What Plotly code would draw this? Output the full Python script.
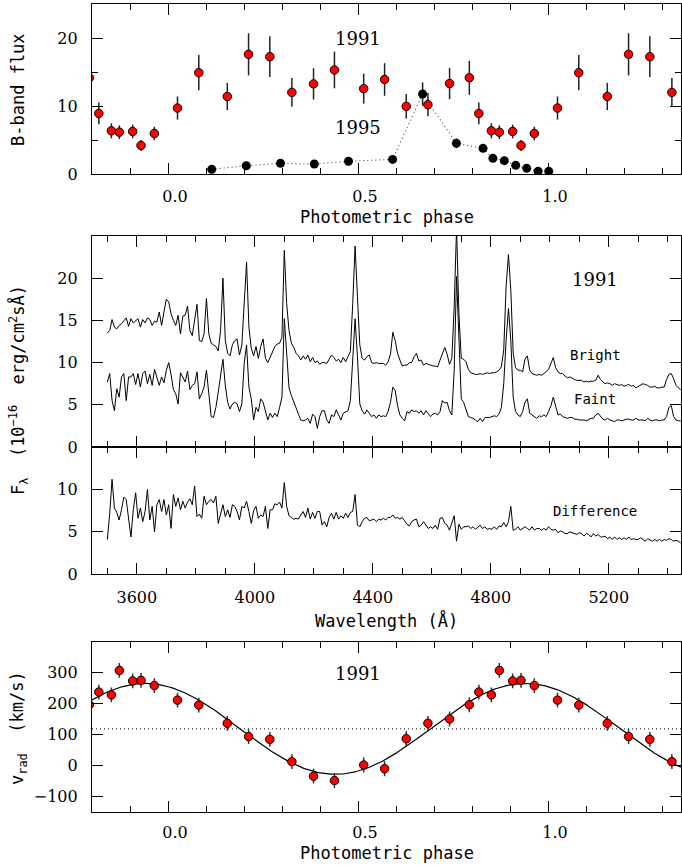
import numpy as np
import plotly.graph_objects as go

# ---------------- data ----------------
# 1991 photometry / radial velocities (phase folded, one cycle)
phase_1991 = [0.025, 0.081, 0.156, 0.212, 0.268, 0.326, 0.383, 0.438, 0.515, 0.570,
              0.627, 0.684, 0.741, 0.793, 0.818, 0.851, 0.872, 0.907, 0.929, 0.964]
bflux_1991 = [9.7, 14.9, 11.4, 17.6, 17.25, 12.0, 13.25, 15.3, 12.55, 13.9,
              9.95, 10.2, 13.3, 14.15, 8.9, 6.35, 6.15, 6.25, 4.2, 5.95]
bflux_1991_err = [1.7, 2.6, 2.0, 3.1, 3.0, 2.1, 2.3, 2.7, 2.2, 2.4,
                  1.8, 1.7, 2.3, 2.5, 1.6, 1.1, 1.0, 1.0, 0.8, 1.0]
vrad_1991 = [211, 195, 136, 93, 84, 12, -35, -49, 1, -11,
             86, 136, 150, 196, 237, 228, 307, 273, 275, 258]
vrad_1991_err = [24, 24, 24, 24, 24, 24, 24, 24, 24, 24,
                 24, 24, 24, 24, 24, 24, 24, 24, 24, 24]

# 1995 photometry
phase_1995 = [0.115, 0.206, 0.296, 0.385, 0.475, 0.591, 0.670, 0.759, 0.829, 0.855,
              0.885, 0.915, 0.944, 0.974, 1.002]
bflux_1995 = [0.69, 1.22, 1.57, 1.47, 1.87, 2.15, 11.76, 4.51, 3.77, 2.30,
              1.96, 1.27, 0.83, 0.39, 0.39]
bflux_1995_err = [0.1, 0.2, 0.25, 0.2, 0.3, 0.3, 1.7, 0.7, 0.55, 0.35,
                  0.3, 0.2, 0.12, 0.06, 0.06]

# sine fit to radial velocities
vrad_gamma = 118.0
vrad_K = 147.0
vrad_phase_max = 0.94

# spectra (1991), sampled every 8 A from 3500 A
wave_start = 3500
wave_step = 8
flux_bright = [
    13.5, 13.8, 15.1, 14.2, 14.0, 14.4, 14.6, 15.0, 15.3, 14.3,
    15.2, 14.7, 14.9, 15.2, 14.2, 15.1, 14.7, 15.3, 15.1, 14.4,
    14.9, 14.8, 16.0, 14.4, 16.0, 17.5, 17.2, 15.8, 15.0, 14.4,
    15.6, 13.4, 15.5, 15.6, 16.7, 13.8, 13.2, 15.4, 16.9, 12.6,
    12.5, 13.4, 17.6, 13.4, 12.3, 12.1, 11.9, 11.4, 13.8, 20.0,
    12.6, 11.1, 10.8, 12.1, 12.6, 12.8, 10.9, 12.1, 17.0, 21.9,
    14.2, 11.7, 10.8, 11.9, 10.5, 11.9, 12.8, 10.5, 10.0, 10.6,
    11.1, 11.9, 12.2, 12.3, 13.0, 23.3, 17.0, 13.8, 12.3, 11.8,
    11.1, 10.8, 10.3, 10.8, 10.4, 10.9, 10.1, 10.6, 10.0, 10.2,
    9.8, 10.0, 10.0, 9.9, 10.4, 10.9, 10.6, 10.2, 10.4, 10.0,
    10.6, 10.1, 10.7, 11.3, 17.0, 23.8, 17.8, 12.1, 10.5, 10.3,
    10.7, 10.9, 10.0, 9.9, 10.0, 9.9, 9.9, 9.9, 9.7, 10.1,
    11.0, 13.6, 12.6, 11.1, 10.3, 9.6, 9.7, 9.7, 10.0, 10.0,
    10.7, 11.1, 10.2, 10.3, 9.7, 9.9, 9.8, 9.7, 9.6, 9.6,
    9.5, 10.3, 11.1, 11.8, 11.0, 9.8, 10.5, 16.6, 26.0, 15.8,
    10.5, 10.4, 10.1, 9.2, 8.8, 8.7, 8.6, 8.6, 8.7, 8.6,
    8.7, 8.8, 8.7, 8.8, 8.8, 8.9, 9.1, 9.5, 11.5, 19.0,
    22.8, 18.6, 11.1, 9.4, 9.1, 9.1, 8.9, 10.4, 10.8, 9.1,
    8.7, 8.6, 8.5, 8.6, 8.5, 8.7, 8.9, 9.2, 9.9, 10.6,
    9.4, 8.9, 8.7, 8.7, 8.4, 8.2, 8.3, 8.1, 8.0, 7.9,
    7.9, 7.9, 7.7, 7.8, 7.7, 7.8, 7.8, 7.9, 8.5, 8.0,
    7.7, 7.5, 7.6, 7.5, 7.3, 7.5, 7.4, 7.3, 7.4, 7.2,
    7.3, 7.4, 7.2, 7.3, 7.0, 7.2, 7.3, 7.5, 7.4, 7.3,
    7.1, 7.1, 7.2, 7.0, 7.0, 7.1, 7.1, 8.0, 8.6, 8.7,
    8.1, 7.3, 7.0, 6.8]
flux_faint = [
    7.7, 8.7, 5.5, 4.3, 6.9, 5.9, 8.3, 8.7, 5.5, 8.3,
    8.3, 8.7, 7.4, 8.7, 7.1, 8.7, 9.0, 7.5, 8.6, 7.3,
    9.2, 8.3, 7.3, 8.3, 7.6, 9.1, 10.0, 8.6, 6.8, 6.3,
    5.1, 8.8, 8.3, 7.7, 9.0, 6.8, 7.3, 7.5, 8.9, 5.7,
    6.3, 7.1, 9.1, 6.1, 3.6, 3.5, 4.7, 6.5, 8.3, 10.4,
    7.3, 5.3, 4.5, 5.1, 5.3, 5.1, 4.2, 5.1, 9.9, 12.1,
    7.1, 5.7, 3.2, 4.7, 4.2, 5.7, 5.3, 4.2, 3.2, 4.0,
    3.5, 4.0, 3.6, 4.7, 5.9, 15.2, 11.0, 7.0, 6.1, 5.3,
    4.5, 3.9, 3.2, 3.1, 3.2, 3.4, 2.8, 3.9, 3.6, 2.2,
    3.6, 4.3, 4.3, 3.2, 2.8, 3.8, 3.6, 4.4, 3.8, 3.2,
    4.0, 4.2, 4.3, 5.5, 10.7, 15.2, 10.7, 5.1, 4.3, 3.9,
    4.4, 4.0, 3.6, 3.8, 3.4, 3.8, 3.6, 3.7, 3.6, 4.2,
    5.3, 7.1, 6.7, 4.9, 3.8, 3.4, 3.1, 4.2, 4.0, 4.4,
    4.2, 4.3, 4.0, 4.3, 3.8, 4.3, 4.0, 3.6, 3.9, 4.0,
    3.8, 4.2, 5.5, 5.2, 5.3, 4.3, 3.8, 9.1, 20.2, 12.6,
    5.7, 5.3, 4.3, 3.6, 3.5, 3.4, 3.2, 3.0, 3.4, 3.0,
    3.5, 3.5, 3.5, 3.6, 3.7, 3.6, 3.9, 4.7, 7.5, 12.6,
    16.4, 12.6, 5.9, 4.2, 3.8, 3.6, 4.2, 5.3, 5.7, 4.0,
    3.8, 3.6, 3.4, 3.7, 3.6, 3.8, 3.6, 4.2, 4.9, 5.9,
    4.7, 3.8, 3.9, 3.6, 3.5, 3.4, 3.5, 3.5, 3.3, 3.3,
    3.2, 3.2, 3.2, 3.1, 3.3, 3.4, 3.4, 3.8, 4.0, 3.6,
    3.3, 3.2, 3.4, 3.2, 3.1, 3.0, 3.2, 3.2, 3.1, 3.2,
    3.3, 3.3, 3.2, 3.2, 3.4, 3.2, 3.2, 3.2, 3.1, 3.4,
    3.2, 3.1, 3.2, 3.2, 3.1, 3.2, 3.2, 3.6, 4.7, 4.9,
    3.6, 3.2, 3.1, 3.1]
flux_difference = [
    4.1, 7.1, 11.2, 7.8, 7.3, 6.4, 7.6, 9.1, 8.8, 6.4,
    4.4, 7.6, 9.6, 6.6, 7.8, 6.2, 7.4, 10.0, 6.4, 8.0,
    5.0, 8.2, 8.8, 7.4, 8.8, 7.0, 8.2, 5.4, 9.4, 8.0,
    9.0, 7.6, 8.6, 7.8, 8.5, 8.9, 8.2, 10.4, 6.8, 7.1,
    6.6, 9.2, 8.2, 8.6, 8.8, 8.4, 9.2, 6.0, 7.2, 8.2,
    6.8, 7.6, 6.7, 8.2, 8.0, 7.4, 6.4, 8.0, 7.8, 8.6,
    7.4, 6.0, 7.5, 8.0, 6.6, 7.0, 6.8, 8.0, 5.4, 7.6,
    7.6, 8.3, 8.2, 8.5, 7.8, 10.8, 8.0, 6.9, 6.7, 6.5,
    6.6, 6.5, 7.0, 7.4, 6.7, 7.8, 6.5, 7.3, 6.6, 7.4,
    7.4, 5.8, 6.2, 5.6, 6.7, 7.2, 6.5, 7.3, 6.5, 6.9,
    6.6, 7.2, 6.7, 7.3, 7.4, 9.4, 5.8, 5.6, 6.2, 6.6,
    6.7, 6.3, 6.4, 6.5, 6.2, 6.5, 6.4, 6.6, 6.4, 6.7,
    6.7, 7.0, 6.6, 6.7, 6.5, 6.7, 6.3, 5.9, 5.7, 6.2,
    6.4, 6.5, 5.6, 5.8, 6.2, 5.8, 5.4, 5.6, 5.4, 5.8,
    5.3, 6.6, 6.7, 6.0, 5.8, 5.2, 6.1, 6.9, 3.9, 5.9,
    5.3, 5.6, 5.6, 5.7, 5.4, 5.6, 5.3, 5.6, 5.8, 5.4,
    5.6, 5.3, 5.4, 5.3, 5.6, 5.3, 5.7, 5.6, 6.1, 5.6,
    6.2, 8.0, 5.2, 5.3, 5.6, 5.2, 5.4, 5.6, 5.4, 5.2,
    5.6, 5.2, 5.4, 5.4, 5.2, 5.4, 5.2, 5.6, 5.3, 5.2,
    5.3, 4.9, 5.1, 5.0, 4.8, 4.8, 5.0, 4.9, 4.8, 4.7,
    4.9, 4.8, 4.5, 4.8, 4.7, 4.4, 4.8, 4.5, 4.7, 4.4,
    4.4, 4.5, 4.2, 4.4, 4.1, 4.4, 4.1, 4.3, 4.1, 4.3,
    4.1, 4.4, 4.1, 4.2, 4.1, 4.1, 4.3, 4.1, 3.9, 4.2,
    4.0, 3.9, 4.1, 3.9, 4.1, 3.9, 4.1, 4.0, 4.2, 4.1,
    3.9, 4.0, 3.9, 3.7]

wavelength = [wave_start + wave_step * i for i in range(len(flux_bright))]

phase_ticks = [0.0, 0.5, 1.0]
phase_ticktext = ["0.0", "0.5", "1.0"]
wave_ticks = [3600, 4000, 4400, 4800, 5200]


def unfold(ph, vals, errs, lo=-0.21, hi=1.36):
    xs, ys, es = [], [], []
    for shift in (-1, 0, 1):
        for p, v, e in zip(ph, vals, errs):
            q = p + shift
            if lo <= q <= hi:
                xs.append(q); ys.append(v); es.append(e)
    return xs, ys, es


# ---------------- figure ----------------
W, H = 682, 867
fig = go.Figure()

RED = "#ff0000"
SERIF = "DejaVu Serif"
MONO = "DejaVu Sans Mono"

# --- top panel: B-band flux ---
fig.add_trace(go.Scatter(
    x=phase_1995, y=bflux_1995, mode="lines+markers",
    line=dict(color="#444444", width=1.1, dash="1px,3px"),
    marker=dict(color="black", size=9, line=dict(color="black", width=0)),
    error_y=dict(type="data", array=bflux_1995_err, width=0, thickness=1.5, color="#222222"),
    xaxis="x", yaxis="y", showlegend=False))
px_, py_, pe_ = unfold(phase_1991, bflux_1991, bflux_1991_err)
fig.add_trace(go.Scatter(
    x=px_, y=py_, mode="markers",
    marker=dict(color=RED, size=8.5, line=dict(color="black", width=1)),
    error_y=dict(type="data", array=pe_, width=0, thickness=1.5, color="#222222"),
    xaxis="x", yaxis="y", showlegend=False))

# --- spectra ---
fig.add_trace(go.Scatter(x=wavelength, y=flux_bright, mode="lines",
                         line=dict(color="black", width=1), xaxis="x2", yaxis="y2", showlegend=False))
fig.add_trace(go.Scatter(x=wavelength, y=flux_faint, mode="lines",
                         line=dict(color="black", width=1), xaxis="x2", yaxis="y2", showlegend=False))
fig.add_trace(go.Scatter(x=wavelength, y=flux_difference, mode="lines",
                         line=dict(color="black", width=1), xaxis="x3", yaxis="y3", showlegend=False))

# --- bottom panel: radial velocity ---
phase_grid = np.linspace(-0.2, 1.35, 500)
vfit = vrad_gamma + vrad_K * np.cos(2 * np.pi * (phase_grid - vrad_phase_max))
fig.add_trace(go.Scatter(x=[-0.2, 1.35], y=[vrad_gamma, vrad_gamma], mode="lines",
                         line=dict(color="black", width=1, dash="1px,3px"),
                         xaxis="x4", yaxis="y4", showlegend=False))
fig.add_trace(go.Scatter(x=phase_grid, y=vfit, mode="lines",
                         line=dict(color="black", width=1.2),
                         xaxis="x4", yaxis="y4", showlegend=False))
vx_, vy_, ve_ = unfold(phase_1991, vrad_1991, vrad_1991_err)
fig.add_trace(go.Scatter(
    x=vx_, y=vy_, mode="markers",
    marker=dict(color=RED, size=8.5, line=dict(color="black", width=1)),
    error_y=dict(type="data", array=ve_, width=0, thickness=1.5, color="#333333"),
    xaxis="x4", yaxis="y4", showlegend=False))


def pxy(top, bottom):
    return [1 - bottom / H, 1 - top / H]


xdom = [92 / W, 681 / W]


def axis(**kw):
    base = dict(showline=True, linecolor="black", linewidth=1.2, mirror="allticks",
                ticks="inside", ticklen=11, tickwidth=1.2, tickcolor="black",
                showgrid=False, zeroline=False, automargin=False,
                tickfont=dict(family=SERIF, size=16, color="black"))
    base.update(kw)
    return base


minor_phase = dict(ticks="inside", ticklen=6, tickwidth=1, tickcolor="black", dtick=0.1, showgrid=False)
minor_wave = dict(ticks="inside", ticklen=6, tickwidth=1, tickcolor="black", dtick=100, showgrid=False)

fig.update_layout(
    width=W, height=H, margin=dict(l=0, r=0, t=0, b=0, pad=0), autosize=False,
    paper_bgcolor="white", plot_bgcolor="white",
    xaxis=axis(domain=xdom, anchor="y", range=[-0.2, 1.35], tickvals=phase_ticks,
               ticktext=phase_ticktext, minor=minor_phase, ticklabelstandoff=8, ticklabelshift=7),
    yaxis=axis(domain=pxy(4, 174), anchor="x", range=[0, 25], tickvals=[0, 10, 20],
               minor=dict(ticks="inside", ticklen=6, tickwidth=1, tickcolor="black", dtick=5),
               ticklabelstandoff=10),
    xaxis2=axis(domain=xdom, anchor="y2", range=[3448, 5445], tickvals=wave_ticks,
                showticklabels=False, minor=minor_wave),
    yaxis2=axis(domain=pxy(236, 447), anchor="x2", range=[0, 25], tickvals=[0, 5, 10, 15, 20],
                ticklabelstandoff=10),
    xaxis3=axis(domain=xdom, anchor="y3", range=[3448, 5445], tickvals=wave_ticks,
                minor=minor_wave, ticklabelstandoff=8),
    yaxis3=axis(domain=pxy(447, 574.3), anchor="x3", range=[0, 15], tickvals=[0, 5, 10],
                ticklabelstandoff=10),
    xaxis4=axis(domain=xdom, anchor="y4", range=[-0.2, 1.35], tickvals=phase_ticks,
                ticktext=phase_ticktext, minor=minor_phase, ticklabelstandoff=6, ticklabelshift=7),
    yaxis4=axis(domain=pxy(641.7, 811.7), anchor="x4", range=[-150, 400],
                tickvals=[-100, 0, 100, 200, 300], ticktext=["\u2212100", "0", "100", "200", "300"],
                ticklabelstandoff=10),
)

ann = []
# in-panel labels
ann.append(dict(x=0.5, y=20, xref="x", yref="y", text="1991", showarrow=False,
                font=dict(family=SERIF, size=18, color="black")))
ann.append(dict(x=0.5, y=6.8, xref="x", yref="y", text="1995", showarrow=False,
                font=dict(family=SERIF, size=18, color="black")))
ann.append(dict(x=5155, y=19.8, xref="x2", yref="y2", text="1991", showarrow=False,
                font=dict(family=SERIF, size=18, color="black")))
ann.append(dict(x=5155, y=10.9, xref="x2", yref="y2", text="Bright", showarrow=False,
                font=dict(family=MONO, size=14, color="black")))
ann.append(dict(x=5155, y=5.65, xref="x2", yref="y2", text="Faint", showarrow=False,
                font=dict(family=MONO, size=14, color="black")))
ann.append(dict(x=5155, y=7.5, xref="x3", yref="y3", text="Difference", showarrow=False,
                font=dict(family=MONO, size=14, color="black")))
ann.append(dict(x=0.5, y=298, xref="x4", yref="y4", text="1991", showarrow=False,
                font=dict(family=SERIF, size=18, color="black")))

# axis titles
tfont = dict(family=MONO, size=17, color="black")
xc = (92 + 681) / 2 / W
ann.append(dict(x=xc, y=1 - 217 / H, xref="paper", yref="paper", text="Photometric phase",
                showarrow=False, font=tfont, xanchor="center", yanchor="middle"))
ann.append(dict(x=xc, y=1 - 620 / H, xref="paper", yref="paper", text="Wavelength (\u00c5)",
                showarrow=False, font=tfont, xanchor="center", yanchor="middle"))
ann.append(dict(x=xc, y=1 - 853 / H, xref="paper", yref="paper", text="Photometric phase",
                showarrow=False, font=tfont, xanchor="center", yanchor="middle"))
ann.append(dict(x=18 / W, y=1 - 90 / H, xref="paper", yref="paper", text="B-band flux",
                showarrow=False, font=tfont, textangle=-90, xanchor="center", yanchor="middle"))
ann.append(dict(x=18 / W, y=1 - 390 / H, xref="paper", yref="paper",
                text="F<sub>\u03bb</sub>&nbsp; (10<sup>\u221216</sup>&nbsp; erg/cm<sup>2</sup>s\u00c5)",
                showarrow=False, font=tfont, textangle=-90, xanchor="center", yanchor="middle"))
ann.append(dict(x=18 / W, y=1 - 728 / H, xref="paper", yref="paper",
                text="v<sub>rad</sub>&nbsp; (km/s)",
                showarrow=False, font=tfont, textangle=-90, xanchor="center", yanchor="middle"))

fig.update_layout(annotations=ann)
fig.write_html("out.html", config={"displayModeBar": False},
               post_script="document.body.style.margin='0';document.body.style.padding='0';"
                           "document.body.style.overflow='hidden';")
